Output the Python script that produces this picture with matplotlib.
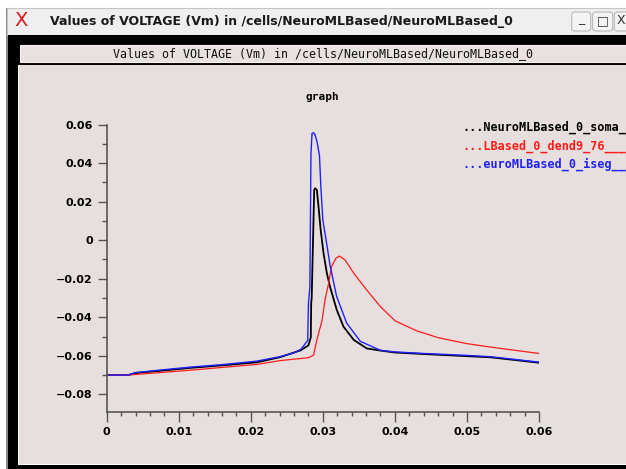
import matplotlib
matplotlib.use("Agg")
import matplotlib.pyplot as plt
from matplotlib.patches import Rectangle, FancyBboxPatch
from matplotlib.ticker import MultipleLocator

# window / data text
window_title = "Values of VOLTAGE (Vm) in /cells/NeuroMLBased/NeuroMLBased_0"
graph_title = "graph"
legend_labels = ["...NeuroMLBased_0_soma_0", "...LBased_0_dend9_76___0", "...euroMLBased_0_iseg__0"]

xticks = [0, 0.01, 0.02, 0.03, 0.04, 0.05, 0.06]
xtick_labels = ["0", "0.01", "0.02", "0.03", "0.04", "0.05", "0.06"]
yticks = [0.06, 0.04, 0.02, 0, -0.02, -0.04, -0.06, -0.08]
ytick_labels = ["0.06", "0.04", "0.02", "0", "\u22120.02", "\u22120.04", "\u22120.06", "\u22120.08"]

# soma (black)
soma_t = [0, 0.003, 0.0040, 0.008, 0.0116, 0.016, 0.0208, 0.024, 0.0269, 0.028, 0.02833, 0.02838,
          0.02845, 0.0288, 0.02893, 0.02917, 0.0294, 0.0297, 0.0301, 0.03056, 0.0310, 0.03194,
          0.03287, 0.0343, 0.0361, 0.038, 0.040, 0.044, 0.050, 0.0533, 0.06]
soma_v = [-0.070, -0.070, -0.0690, -0.0676, -0.0663, -0.0650, -0.0634, -0.0608, -0.0572, -0.0546,
          -0.0503, -0.0328, -0.0300, 0.0261, 0.0270, 0.0261, 0.0174, 0.0053, -0.0068, -0.0172,
          -0.0242, -0.0363, -0.0449, -0.0518, -0.0562, -0.0573, -0.0583, -0.0591, -0.0602, -0.0608,
          -0.0636]

# dend9 (red)
dend_t = [0, 0.003, 0.0116, 0.0208, 0.0241, 0.028, 0.0287, 0.02917, 0.0299, 0.0303, 0.0308, 0.0312,
          0.0318, 0.0323, 0.0331, 0.0343, 0.0361, 0.038, 0.040, 0.043, 0.046, 0.050, 0.0533, 0.06]
dend_v = [-0.070, -0.070, -0.0675, -0.0645, -0.0625, -0.0610, -0.0597, -0.0518, -0.0415, -0.0310,
          -0.0224, -0.0138, -0.0094, -0.0082, -0.0103, -0.0172, -0.0259, -0.0345, -0.0418, -0.0470,
          -0.0506, -0.0537, -0.0555, -0.0588]

# iseg (blue)
iseg_t = [0, 0.003, 0.0040, 0.008, 0.0116, 0.016, 0.0208, 0.024, 0.026, 0.027, 0.0279, 0.0280,
          0.0282, 0.02835, 0.0285, 0.0287, 0.0289, 0.0292, 0.02953, 0.02972, 0.0300, 0.03056,
          0.0310, 0.0319, 0.0333, 0.0352, 0.038, 0.040, 0.044, 0.050, 0.0533, 0.06]
iseg_v = [-0.070, -0.070, -0.0687, -0.0672, -0.0659, -0.0646, -0.0628, -0.0605, -0.0585, -0.0565,
          -0.0520, -0.0330, -0.0240, 0.0450, 0.0555, 0.0558, 0.0550, 0.0510, 0.0440, 0.0280, 0.0105,
          -0.0025, -0.0130, -0.0290, -0.0430, -0.0525, -0.0572, -0.0580, -0.0588, -0.0598, -0.0605,
          -0.0633]

W, H = 626, 469
BG = "#e6dfdd"


def box(x0, y0, x1, y1, **kw):
    # pixel box (top-left origin) -> figure rectangle
    kw.setdefault("zorder", -10)
    r = Rectangle((x0 / W, 1 - y1 / H), (x1 - x0) / W, (y1 - y0) / H,
                  transform=fig.transFigure, **kw)
    fig.add_artist(r)
    return r


def ftext(x, y, s, **kw):
    return fig.text(x / W, 1 - y / H, s, **kw)


fig = plt.figure(figsize=(W / 100, H / 100), dpi=100)
fig.patch.set_facecolor("white")

# window frame
box(6, 8, W + 2, H + 2, facecolor="#8a8a8a", edgecolor="none", zorder=-12)
box(7, 8, W + 2, 35, facecolor="#efefef", edgecolor="#c4c4c4", linewidth=0.8, zorder=-11)
box(8, 35, W + 2, H + 2, facecolor="black", edgecolor="none", zorder=-11)
box(20, 45, W + 2, 62, facecolor="#e8e1df", edgecolor="#f6f2f1", linewidth=0.8)
box(18, 65, W + 2, 465, facecolor="white", edgecolor="none", zorder=-10)
box(19, 65, W + 2, 464, facecolor=BG, edgecolor="none", zorder=-9)

# title bar
ftext(21, 21, "X", color="#e01818", fontsize=14, family="DejaVu Sans", ha="center", va="center")
ftext(50, 22, window_title, fontsize=9, fontweight="bold", family="DejaVu Sans",
      color="#1a1a1a", ha="left", va="center")
for bx0, bx1, glyph in [(571.7, 590.7, "_"), (592.7, 612.7, "\u25a1"), (614.3, 640, "X")]:
    p = FancyBboxPatch((bx0 / W, 1 - 31 / H), (bx1 - bx0) / W, 19 / H,
                       boxstyle="round,pad=0,rounding_size=0.006", transform=fig.transFigure,
                       facecolor="#f4f4f4", edgecolor="#b8b8b8", linewidth=0.8, zorder=-5)
    fig.add_artist(p)
    gy = 19 if glyph == "_" else 21
    ftext((bx0 + bx1) / 2 if glyph != "X" else 621, gy, glyph, fontsize=9, color="#333333",
          ha="center", va="center", family="DejaVu Sans")

# inner label
ftext(323, 54, window_title, fontsize=8.4, family="DejaVu Sans Mono", color="#111111",
      ha="center", va="center")

# graph axes
ax = fig.add_axes([106.7 / W, 1 - 412 / H, (539 - 106.7) / W, (412 - 124.7) / H])
ax.set_facecolor("none")
ax.plot(soma_t, soma_v, color="black", lw=1.3)
ax.plot(dend_t, dend_v, color="#ff1a1a", lw=0.9)
ax.plot(iseg_t, iseg_v, color="#2020ff", lw=1.0)
ax.set_xlim(0, 0.06)
ax.set_ylim(-0.0892, 0.06)

for side in ["top", "right"]:
    ax.spines[side].set_visible(False)
for side in ["left", "bottom"]:
    ax.spines[side].set_color("#555555")
    ax.spines[side].set_linewidth(1.2)

ax.set_xticks(xticks)
ax.set_xticklabels(xtick_labels)
ax.set_yticks(yticks)
ax.set_yticklabels(ytick_labels)
ax.xaxis.set_minor_locator(MultipleLocator(0.002))
ax.yaxis.set_minor_locator(MultipleLocator(0.01))
ax.tick_params(axis="both", which="both", color="#555555", width=1.0, direction="out",
               labelsize=8)
ax.tick_params(axis="y", which="major", length=6.5, pad=3.5)
ax.tick_params(axis="y", which="minor", length=3.5)
ax.tick_params(axis="x", which="major", length=7, pad=3.5)
ax.tick_params(axis="x", which="minor", length=3)
for lab in ax.get_xticklabels() + ax.get_yticklabels():
    lab.set_fontweight("bold")
    lab.set_family("DejaVu Sans")

ftext(322, 97, graph_title, fontsize=8, fontweight="bold", family="DejaVu Sans Mono",
      ha="center", va="center")

# legend text (clipped by the window edge, as in the original window)
for yy, lab, col in zip([127, 146, 164], legend_labels, ["black", "#ff1a1a", "#2020ff"]):
    ftext(462, yy, lab, fontsize=8.5, fontweight="bold", family="DejaVu Sans Mono",
          color=col, ha="left", va="center")

fig.savefig("out.png", dpi=100)
